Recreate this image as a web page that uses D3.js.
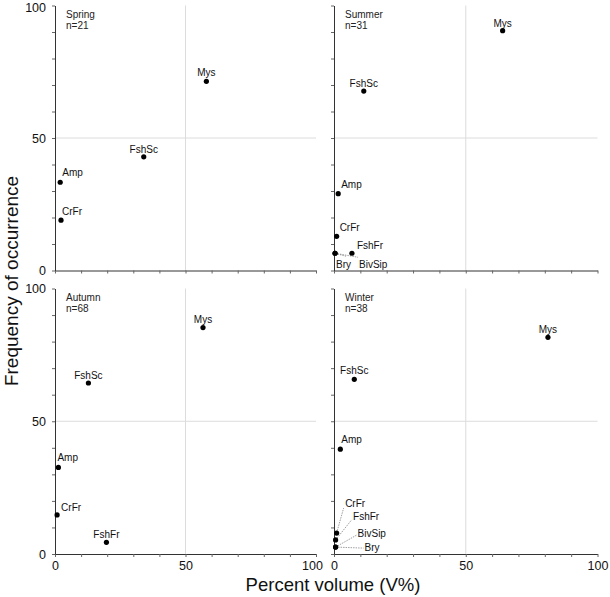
<!DOCTYPE html>
<html><head><meta charset="utf-8">
<script src="https://cdn.jsdelivr.net/npm/d3@7"></script>
<style>
body{margin:0;background:#fff}
svg{display:block}
text{font-family:Arial,"Liberation Sans",sans-serif}
</style>
</head><body>
<svg id="chart" width="610" height="597"></svg>
<script>
// ---------------- data ----------------
const seasons = ["Spring", "Summer", "Autumn", "Winter"];
const sampleSizes = [21, 31, 68, 38];

const springPrey = ["Mys", "FshSc", "Amp", "CrFr"];
const springVolume = [58, 34, 2, 2.3];
const springFrequency = [71.4, 42.9, 33.3, 19.0];

const summerPrey = ["Mys", "FshSc", "Amp", "CrFr", "FshFr", "Bry", "BivSip"];
const summerVolume = [64, 11.3, 1.6, 1.0, 6.8, 0.4, 0.4];
const summerFrequency = [90.5, 67.7, 29.0, 12.9, 6.5, 6.5, 6.5];

const autumnPrey = ["Mys", "FshSc", "Amp", "CrFr", "FshFr"];
const autumnVolume = [56.7, 12.8, 1.3, 0.8, 19.7];
const autumnFrequency = [85.3, 64.4, 32.6, 14.7, 4.4];

const winterPrey = ["Mys", "FshSc", "Amp", "CrFr", "FshFr", "BivSip", "Bry"];
const winterVolume = [81.2, 7.7, 2.4, 1.0, 0.6, 0.6, 0.6];
const winterFrequency = [81.6, 65.8, 39.5, 7.9, 5.3, 2.6, 2.6];

const axisTicks = [0, 10, 20, 30, 40, 50, 60, 70, 80, 90, 100];
const axisTickLabels = [0, 50, 100];
const xTitle = "Percent volume (V%)";
const yTitle = "Frequency of occurrence";

// ---------------- label placement (px offsets from point) ----------------
// [dx, dy, anchor, leaderDx, leaderDy]
const labelPlacement = {
  Spring: {Mys:[0,-5,"middle"], FshSc:[0,-4,"middle"], Amp:[2,-6,"start"], CrFr:[1,-5,"start"]},
  Summer: {Mys:[0,-4,"middle"], FshSc:[0,-4,"middle"], Amp:[3,-6,"start"], CrFr:[3,-5,"start"],
           FshFr:[5,-4,"start"], Bry:[1,15,"start",11,3], BivSip:[24,15,"start",23,4]},
  Autumn: {Mys:[0,-4.5,"middle"], FshSc:[0,-4.5,"middle"], Amp:[-1,-6,"start"], CrFr:[4,-4,"start"],
           FshFr:[0,-4,"middle"]},
  Winter: {Mys:[0,-4,"middle"], FshSc:[0,-5,"middle"], Amp:[1,-6,"start"],
           CrFr:[8.5,-26,"start",7,-25], FshFr:[17.5,-20,"start",16,-20],
           BivSip:[22,-10,"start",21,-12], Bry:[29,4,"start",28,1]}
};

// ---------------- layout ----------------
const colRange = [[55, 316], [334, 597.5]];
const rowRange = [[270.5, 5.5], [554, 288.5]];

const panels = [
  {prey: springPrey, vol: springVolume, freq: springFrequency, col: 0, row: 0},
  {prey: summerPrey, vol: summerVolume, freq: summerFrequency, col: 1, row: 0},
  {prey: autumnPrey, vol: autumnVolume, freq: autumnFrequency, col: 0, row: 1},
  {prey: winterPrey, vol: winterVolume, freq: winterFrequency, col: 1, row: 1}
];

const svg = d3.select("#chart");

panels.forEach((p, i) => {
  const season = seasons[i];
  const x = d3.scaleLinear().domain([0, 100]).range(colRange[p.col]);
  const y = d3.scaleLinear().domain([0, 100]).range(rowRange[p.row]);
  const g = svg.append("g");

  // grid lines at 50
  g.append("line").attr("x1", x(50)).attr("x2", x(50)).attr("y1", y(0)).attr("y2", y(100))
    .attr("stroke", "#dcdcdc").attr("stroke-width", 1);
  g.append("line").attr("x1", x(0)).attr("x2", x(100)).attr("y1", y(50)).attr("y2", y(50))
    .attr("stroke", "#dcdcdc").attr("stroke-width", 1);

  // x axis
  const xa = g.append("g").attr("transform", `translate(0,${y(0)})`)
    .call(d3.axisBottom(x).tickValues(axisTicks).tickSize(3).tickSizeOuter(0).tickPadding(4)
      .tickFormat(d => (p.row === 1 && axisTickLabels.includes(d)) ? d : ""));
  // y axis
  const ya = g.append("g").attr("transform", `translate(${x(0)},0)`)
    .call(d3.axisLeft(y).tickValues(axisTicks).tickSize(3).tickSizeOuter(0).tickPadding(6)
      .tickFormat(d => (p.col === 0 && axisTickLabels.includes(d)) ? d : ""));
  [xa, ya].forEach(a => {
    a.attr("font-family", null).attr("font-size", null);
    a.select(".domain").attr("stroke", "#333");
    a.selectAll(".tick line").attr("stroke", "#666");
    a.selectAll(".tick text").attr("font-size", 12.5).attr("fill", "#111");
  });
  if (p.col === 0) {
    xa.selectAll(".tick text").filter(d => d === 100).attr("dx", -4);
  }
  if (p.row === 0) {
    ya.selectAll(".tick text").filter(d => d === 100).attr("dy", "0.5em");
  }

  // season / n text
  g.append("text").attr("x", x(0) + 11).attr("y", y(100) + 12)
    .attr("font-size", 10).attr("fill", "#222").text(season);
  g.append("text").attr("x", x(0) + 11).attr("y", y(100) + 23.5)
    .attr("font-size", 10).attr("fill", "#222").text("n=" + sampleSizes[i]);

  const pts = p.prey.map((name, k) => ({name, v: p.vol[k], f: p.freq[k]}));
  const place = labelPlacement[season];

  // leader lines
  pts.filter(d => place[d.name] && place[d.name].length > 3).forEach(d => {
    const pl = place[d.name];
    g.append("line").attr("x1", x(d.v)).attr("y1", y(d.f))
      .attr("x2", x(d.v) + pl[3]).attr("y2", y(d.f) + pl[4])
      .attr("stroke", "#888").attr("stroke-width", 0.8).attr("stroke-dasharray", "1.5,1");
  });

  g.selectAll("circle.pt").data(pts).enter().append("circle")
    .attr("class", "pt").attr("cx", d => x(d.v)).attr("cy", d => y(d.f)).attr("r", 2.6)
    .attr("fill", "#000");

  g.selectAll("text.lbl").data(pts).enter().append("text")
    .attr("class", "lbl")
    .attr("x", d => x(d.v) + place[d.name][0])
    .attr("y", d => y(d.f) + place[d.name][1])
    .attr("text-anchor", d => place[d.name][2])
    .attr("font-size", 10).attr("fill", "#111")
    .text(d => d.name);
});

// axis titles
svg.append("text").attr("x", 333).attr("y", 591).attr("text-anchor", "middle")
  .attr("font-size", 18.5).attr("fill", "#111").text(xTitle);
svg.append("text").attr("transform", "translate(18,281) rotate(-90)").attr("text-anchor", "middle")
  .attr("font-size", 19).attr("fill", "#111").text(yTitle);
</script>
</body></html>
